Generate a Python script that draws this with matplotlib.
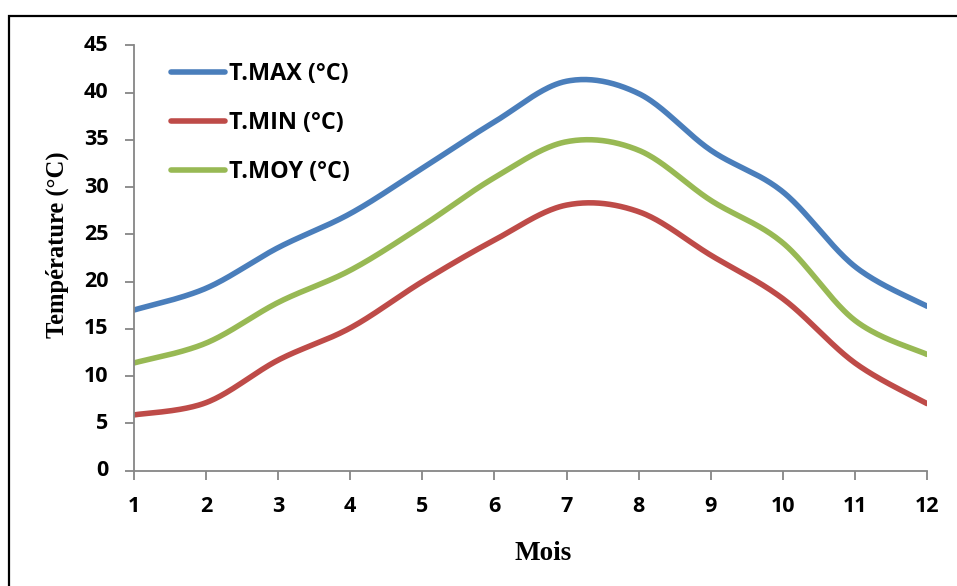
import numpy as np
import matplotlib
matplotlib.use("Agg")
import matplotlib.pyplot as plt
from matplotlib.patches import Rectangle

# Monthly temperatures (°C)
months = [1, 2, 3, 4, 5, 6, 7, 8, 9, 10, 11, 12]
t_max = [17.0, 19.3, 23.6, 27.2, 32.0, 36.9, 41.2, 39.9, 33.9, 29.5, 21.6, 17.4]
t_min = [5.9, 7.2, 11.7, 15.1, 20.0, 24.4, 28.1, 27.4, 22.8, 18.2, 11.4, 7.1]
t_moy = [11.4, 13.5, 17.8, 21.2, 25.9, 31.0, 34.8, 33.9, 28.6, 24.1, 15.9, 12.3]

series_labels = ["T.MAX (°C)", "T.MIN (°C)", "T.MOY (°C)"]
series_colors = ["#4A7EBB", "#BE4B48", "#98B954"]
y_ticks = [0, 5, 10, 15, 20, 25, 30, 35, 40, 45]


def smooth(x, y, n=40):
    """Catmull-Rom style cubic Bezier smoothing through every point."""
    x = np.asarray(x, float)
    y = np.asarray(y, float)
    P = np.column_stack([x, y])
    out = []
    for i in range(len(P) - 1):
        p0 = P[i - 1] if i > 0 else P[i]
        p1 = P[i]
        p2 = P[i + 1]
        p3 = P[i + 2] if i + 2 < len(P) else P[i + 1]
        c1 = p1 + (p2 - p0) / 6.0
        c2 = p2 - (p3 - p1) / 6.0
        t = np.linspace(0, 1, n, endpoint=(i == len(P) - 2))[:, None]
        seg = ((1 - t) ** 3) * p1 + 3 * ((1 - t) ** 2) * t * c1 \
            + 3 * (1 - t) * t ** 2 * c2 + t ** 3 * p2
        out.append(seg)
    s = np.vstack(out)
    return s[:, 0], s[:, 1]


W, H = 957, 586
fig = plt.figure(figsize=(W / 100, H / 100), dpi=100)
ax = fig.add_axes([134 / W, 1 - 470.7 / H, (927 - 134) / W, (470.7 - 45.3) / H])

for vals, lab, col in zip([t_max, t_min, t_moy], series_labels, series_colors):
    sx, sy = smooth(months, vals)
    ax.plot(sx, sy, color=col, lw=4.0, label=lab, solid_capstyle="round")

ax.set_xlim(1, 12)
ax.set_ylim(0, 45)
ax.set_xticks(months)
ax.set_yticks(y_ticks)

tick_font = dict(family=["Open Sans", "DejaVu Sans"], weight="bold", size=15.5)
ax.set_xticklabels([str(m) for m in months], fontdict=tick_font)
ax.set_yticklabels([str(v) for v in y_ticks], fontdict=tick_font)

gray = "#868686"
for side in ["top", "right"]:
    ax.spines[side].set_visible(False)
for side in ["left", "bottom"]:
    ax.spines[side].set_color(gray)
    ax.spines[side].set_linewidth(1.3)
ax.tick_params(axis="both", direction="out", length=6.5, width=1.3,
               color=gray, labelcolor="black")
ax.tick_params(axis="y", pad=12)
ax.tick_params(axis="x", pad=12)
for lbl in ax.get_yticklabels():
    lbl.set_verticalalignment("center")

fig.text(543 / W, 1 - 553 / H, "Mois", ha="center", va="center",
         family=["Liberation Serif"], weight="bold", size=19.5)
fig.text(57 / W, 1 - 245 / H, "Température (°C)", ha="center", va="center",
         rotation=90, family=["Liberation Serif"], weight="bold", size=17.7)

leg = ax.legend(loc="upper left", bbox_to_anchor=(171 / W, 1 - 62 / H),
                bbox_transform=fig.transFigure, frameon=False,
                prop=dict(family=["Open Sans", "DejaVu Sans"], weight="bold", size=16.8),
                handlelength=2.3, handletextpad=0.2, labelspacing=1.08,
                borderpad=0, borderaxespad=0)

# Outer chart frame
fig.add_artist(Rectangle((9 / W, -0.5), 2.0, (1 - 16 / H) + 0.5,
                         transform=fig.transFigure, fill=False,
                         edgecolor="black", lw=1.6, clip_on=False))

fig.savefig("out.png", dpi=100)
